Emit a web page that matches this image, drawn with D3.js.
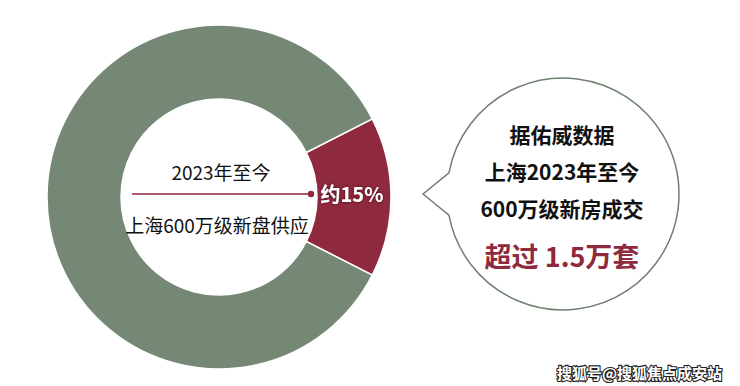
<!DOCTYPE html>
<html>
<head>
<meta charset="utf-8">
<script src="https://cdn.jsdelivr.net/npm/d3@7"></script>
<style>
  html, body { margin: 0; padding: 0; background: #fff; }
  svg { display: block; }
  text { font-family: "Noto Sans CJK SC", "Noto Sans", sans-serif; }
</style>
</head>
<body>
<script>
// data
const categories = ['600万级新盘供应', '其他']
const shares = [15, 85]
const sliceColors = ['#8f2a3e', '#758875']
const centerLabels = ['2023年至今', '上海600万级新盘供应']
const shareLabel = '约15%'
const bubbleLines = ['据佑威数据', '上海2023年至今', '600万级新房成交']
const bubbleHighlight = '超过 1.5万套'
const watermark = '搜狐号@搜狐焦点成安站'

const width = 740
const height = 386
const cx = 219
const cy = 197
const outerR = 172
const innerR = 98

const svg = d3.select('body').append('svg')
  .attr('width', width)
  .attr('height', height)

const defs = svg.append('defs')
const glow = defs.append('filter').attr('id', 'glow')
  .attr('x', '-20%').attr('y', '-40%').attr('width', '140%').attr('height', '180%')
glow.append('feGaussianBlur').attr('in', 'SourceAlpha').attr('stdDeviation', 1.6).attr('result', 'b')
glow.append('feFlood').attr('flood-color', '#3a0d18').attr('flood-opacity', 0.9)
glow.append('feComposite').attr('in2', 'b').attr('operator', 'in').attr('result', 's')
const merge = glow.append('feMerge')
merge.append('feMergeNode').attr('in', 's')
merge.append('feMergeNode').attr('in', 'SourceGraphic')

// red slice centred on 3 o'clock
const redSpan = shares[0] / d3.sum(shares) * 2 * Math.PI
const start = Math.PI / 2 - redSpan / 2
const pie = d3.pie().sort(null).startAngle(start).endAngle(start + 2 * Math.PI)
const arc = d3.arc().innerRadius(innerR).outerRadius(outerR)

const donut = svg.append('g').attr('transform', `translate(${cx},${cy})`)
donut.selectAll('path')
  .data(pie(shares))
  .join('path')
  .attr('d', arc)
  .attr('fill', (d, i) => sliceColors[i])
  .attr('stroke', '#fff')
  .attr('stroke-width', 1.5)

// centre texts and pointer line
donut.append('text')
  .attr('x', 2).attr('y', -17)
  .attr('text-anchor', 'middle')
  .attr('font-size', 19)
  .attr('fill', '#111')
  .text(centerLabels[0])

donut.append('text')
  .attr('x', -2).attr('y', 36)
  .attr('text-anchor', 'middle')
  .attr('font-size', 19)
  .attr('fill', '#111')
  .text(centerLabels[1])

donut.append('line')
  .attr('x1', -87).attr('x2', innerR - 6)
  .attr('y1', -3).attr('y2', -3)
  .attr('stroke', '#8f2a3e')
  .attr('stroke-width', 1.6)

donut.append('circle')
  .attr('cx', innerR - 6).attr('cy', -3).attr('r', 3.2)
  .attr('fill', '#8f2a3e')

const mid = arc.centroid(pie(shares)[0])
donut.append('text')
  .attr('x', mid[0] - 2).attr('y', 5)
  .attr('text-anchor', 'middle')
  .attr('font-size', 20)
  .attr('font-weight', 'bold')
  .attr('fill', '#fff')
  .attr('filter', 'url(#glow)')
  .text(shareLabel)

// speech bubble
const bx = 563
const by = 194
const br = 116
const tip = [423, 194]
const a1 = Math.atan2(172 - by, 445 - bx)
const a2 = Math.atan2(215 - by, 450 - bx)
const bubblePath = d3.path()
bubblePath.moveTo(tip[0], tip[1])
bubblePath.lineTo(bx + br * Math.cos(a2), by + br * Math.sin(a2))
bubblePath.arc(bx, by, br, a2, a1 + 2 * Math.PI, true)
bubblePath.closePath()

svg.append('path')
  .attr('d', bubblePath.toString())
  .attr('fill', '#fff')
  .attr('stroke', '#6f806f')
  .attr('stroke-width', 1.5)

svg.selectAll('.bubble-line')
  .data(bubbleLines)
  .join('text')
  .attr('class', 'bubble-line')
  .attr('x', 562)
  .attr('y', (d, i) => 143 + i * 37)
  .attr('text-anchor', 'middle')
  .attr('font-size', 21)
  .attr('font-weight', 'bold')
  .attr('fill', '#111')
  .text(d => d)

svg.append('text')
  .attr('x', 562).attr('y', 267)
  .attr('text-anchor', 'middle')
  .attr('font-size', 27)
  .attr('font-weight', 'bold')
  .attr('fill', '#8f2a3e')
  .text(bubbleHighlight)

// watermark
svg.append('text')
  .attr('x', 722).attr('y', 379)
  .attr('text-anchor', 'end')
  .attr('font-size', 15)
  .attr('font-weight', 'bold')
  .attr('fill', '#fff')
  .attr('stroke', '#222')
  .attr('stroke-width', 2.2)
  .attr('paint-order', 'stroke')
  .text(watermark)
</script>
</body>
</html>
